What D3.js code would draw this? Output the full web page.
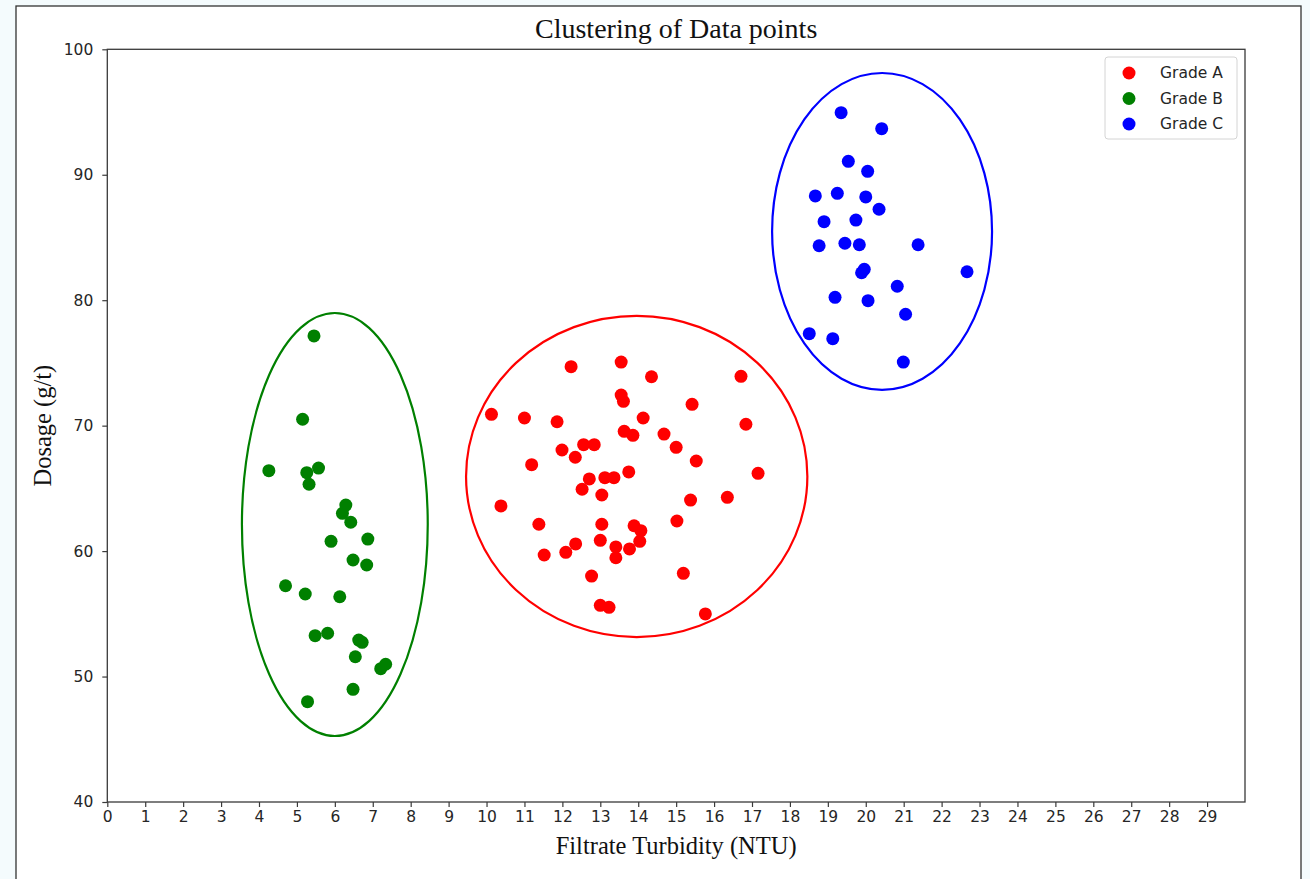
<!DOCTYPE html>
<html>
<head>
<meta charset="utf-8">
<script src="https://cdn.jsdelivr.net/npm/d3@7"></script>
<style>
  html, body { margin: 0; padding: 0; background: #f4fbfd; }
  svg { display: block; }
  .tick text { font-family: "DejaVu Sans", sans-serif !important; font-size: 15.5px !important; }
</style>
</head>
<body>
<svg id="chart" width="1310" height="879"></svg>
<script>
// ---- Data ----
const gradeA_x = [12.23,13.55,14.35,16.71,13.55,13.61,15.42,10.13,11.00,11.86,14.13,16.84,13.63,13.86,14.68,15.00,11.99,12.56,12.84,12.34,15.53,11.19,17.16,13.75,12.71,13.12,13.36,12.52,13.04,10.38,15.38,16.35,11.38,13.04,15.02,13.89,14.07,14.04,11.52,12.09,12.35,13.00,13.41,13.77,13.41,12.77,15.19,13.00,13.23,15.77];
const gradeA_y = [74.70,75.07,73.90,73.93,72.44,71.94,71.70,70.90,70.61,70.31,70.61,70.11,69.55,69.23,69.33,68.27,68.06,68.48,68.48,67.48,67.18,66.89,66.20,66.31,65.75,65.85,65.85,64.93,64.47,63.60,64.07,64.29,62.14,62.14,62.40,62.02,61.63,60.78,59.69,59.90,60.57,60.86,60.33,60.17,59.47,58.01,58.23,55.68,55.52,54.99];

const gradeB_x = [5.45,5.15,4.26,5.26,5.57,5.32,6.29,6.20,6.42,5.90,6.87,6.48,6.84,4.70,5.22,6.13,5.48,5.81,6.63,6.72,6.54,7.21,7.34,6.48,5.28];
const gradeB_y = [77.15,70.51,66.41,66.25,66.62,65.33,63.67,63.01,62.30,60.78,60.96,59.29,58.89,57.24,56.58,56.36,53.26,53.45,52.91,52.73,51.58,50.63,50.98,48.98,48.00];

const gradeC_x = [19.35,20.42,19.54,20.05,18.67,19.25,20.00,20.35,18.90,19.74,18.77,19.45,19.83,21.38,19.96,19.89,22.67,20.83,19.19,20.06,21.05,18.51,19.13,20.99];
const gradeC_y = [94.95,93.67,91.07,90.27,88.31,88.52,88.23,87.25,86.26,86.39,84.34,84.54,84.42,84.42,82.46,82.19,82.27,81.11,80.23,79.96,78.88,77.33,76.93,75.07];

const seriesNames = ["Grade A", "Grade B", "Grade C"];
const seriesColors = ["#ff0000", "#008000", "#0000ff"];

// cluster ellipses: centre x, centre y, half-width, half-height (data units)
const ellipseCx = [13.96, 6.00, 20.43];
const ellipseCy = [65.95, 62.12, 85.48];
const ellipseRx = [4.50, 2.45, 2.90];
const ellipseRy = [12.80, 16.86, 12.63];

const xTicks = d3.range(0, 30);
const yTicks = [40, 50, 60, 70, 80, 90, 100];

const titleText = "Clustering of Data points";
const xLabel = "Filtrate Turbidity (NTU)";
const yLabel = "Dosage (g/t)";

// ---- Layout ----
const svg = d3.select("#chart");
const L = 107.3, R = 1245, T = 49.3, B = 802;

// white figure with frame
svg.append("rect").attr("x", 16).attr("y", 6).attr("width", 1285).attr("height", 900)
  .attr("fill", "#ffffff").attr("stroke", "#333").attr("stroke-width", 1.3);

const x = d3.scaleLinear().domain([0, 30]).range([L, R]);
const y = d3.scaleLinear().domain([40, 100]).range([B, T]);

// axes frame
svg.append("rect").attr("x", L).attr("y", T).attr("width", R - L).attr("height", B - T)
  .attr("fill", "none").attr("stroke", "#3a3a3a").attr("stroke-width", 1.3);

const xAxis = svg.append("g").attr("transform", `translate(0,${B})`)
  .call(d3.axisBottom(x).tickValues(xTicks).tickFormat(d3.format("d")).tickSize(5).tickPadding(4));
const yAxis = svg.append("g").attr("transform", `translate(${L},0)`)
  .call(d3.axisLeft(y).tickValues(yTicks).tickFormat(d3.format("d")).tickSize(5).tickPadding(9));
[xAxis, yAxis].forEach(a => {
  a.attr("font-family", "DejaVu Sans").attr("font-size", 15.5);
  a.select(".domain").remove();
  a.selectAll(".tick line").attr("stroke", "#3a3a3a").attr("stroke-width", 1.2);
  a.selectAll(".tick text").attr("fill", "#262626");
});

// ellipses
const ell = seriesNames.map((n, i) => ({cx: ellipseCx[i], cy: ellipseCy[i], rx: ellipseRx[i], ry: ellipseRy[i], c: seriesColors[i]}));
svg.append("g").selectAll("ellipse").data(ell).join("ellipse")
  .attr("cx", d => x(d.cx)).attr("cy", d => y(d.cy))
  .attr("rx", d => x(d.cx + d.rx) - x(d.cx))
  .attr("ry", d => y(d.cy) - y(d.cy + d.ry))
  .attr("fill", "none").attr("stroke", d => d.c).attr("stroke-width", 2.2);

// points
const series = [
  {xs: gradeA_x, ys: gradeA_y, c: seriesColors[0]},
  {xs: gradeB_x, ys: gradeB_y, c: seriesColors[1]},
  {xs: gradeC_x, ys: gradeC_y, c: seriesColors[2]}
];
series.forEach(s => {
  svg.append("g").selectAll("circle").data(s.xs.map((v, i) => [v, s.ys[i]])).join("circle")
    .attr("cx", d => x(d[0])).attr("cy", d => y(d[1])).attr("r", 6.5).attr("fill", s.c);
});

// title and labels
svg.append("text").attr("x", (L + R) / 2).attr("y", 38).attr("text-anchor", "middle")
  .style("font-family", "'Liberation Serif', serif").style("font-size", "28px").attr("fill", "#111")
  .text(titleText);
svg.append("text").attr("x", (L + R) / 2).attr("y", 854).attr("text-anchor", "middle")
  .style("font-family", "'Liberation Serif', serif").style("font-size", "24.5px").attr("fill", "#111")
  .text(xLabel);
svg.append("text").attr("transform", `translate(51,${(T + B) / 2}) rotate(-90)`).attr("text-anchor", "middle")
  .style("font-family", "'Liberation Serif', serif").style("font-size", "24.5px").attr("fill", "#111")
  .text(yLabel);

// legend
const lg = svg.append("g");
lg.append("rect").attr("x", 1105).attr("y", 57).attr("width", 132).attr("height", 82).attr("rx", 3)
  .attr("fill", "#fff").attr("fill-opacity", 0.8).attr("stroke", "#d4d4d4").attr("stroke-width", 1);
seriesNames.forEach((n, i) => {
  const yy = 73 + i * 25.5;
  lg.append("circle").attr("cx", 1129).attr("cy", yy).attr("r", 6.5).attr("fill", seriesColors[i]);
  lg.append("text").attr("x", 1160).attr("y", yy).attr("dy", "0.35em")
    .style("font-family", "'DejaVu Sans', sans-serif").style("font-size", "15.5px").attr("fill", "#262626")
    .text(n);
});
</script>
</body>
</html>
